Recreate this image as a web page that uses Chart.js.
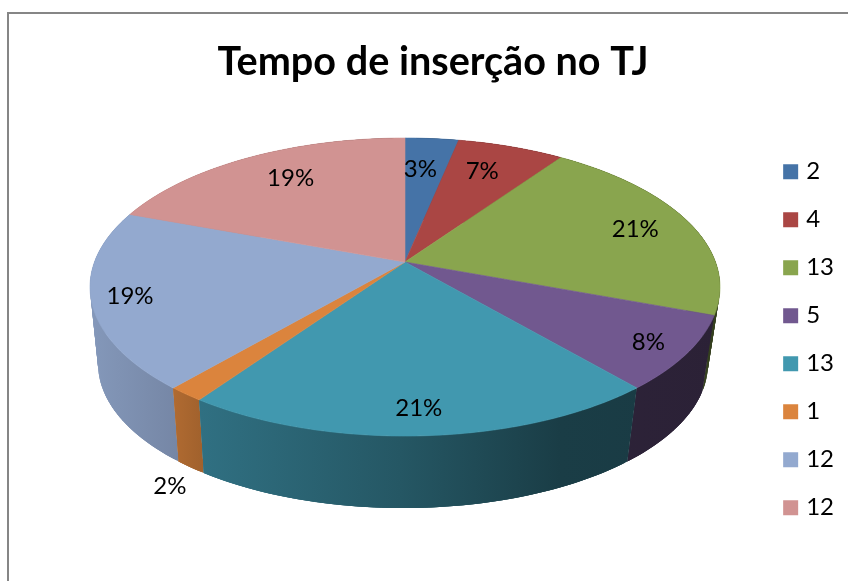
<!DOCTYPE html>
<html><head><meta charset="utf-8">
<style>html,body{margin:0;padding:0;background:#fff;overflow:hidden}canvas{display:block}</style>
<script src="https://cdn.jsdelivr.net/npm/chart.js@4"></script>
</head><body><canvas id="c" width="848" height="581"></canvas>
<script>
const titleText = "Tempo de inserção no TJ";
const categories = ["2","4","13","5","13","1","12","12"];
const values = [2,4,13,5,13,1,12,12];
const percentLabels = ["3%","7%","21%","8%","21%","2%","19%","19%"];
const colors = ["#4573A7","#AA4644","#89A54E","#71588F","#4198AF","#DB843D","#93A9CF","#D19392"];
const FONT = "Lato, Carlito, sans-serif";

// perspective view of the disc
const view = {cx:405, cy:262, R:310.5, b:144.8, k:0.168, lowerScale:0.968, lowerCx:403, lowerCy:339.6};
function project(a, f, lower){
  const X = Math.cos(a)*f, Y = Math.sin(a)*f, d = 1 - view.k*Y;
  const x = view.R*X/d, y = view.b*Y/d;
  return lower ? [view.lowerCx + view.lowerScale*x, view.lowerCy + view.lowerScale*y]
               : [view.cx + x, view.cy + y];
}
// wall brightness across the picture
const shadeStops = [[90,.9],[175,.8],[200,.74],[400,.57],[560,.4],[720,.38]];
function shaded(hex, s){
  const n = parseInt(hex.slice(1),16);
  return `rgb(${(n>>16&255)*s},${(n>>8&255)*s},${(n&255)*s})`;
}
function arcPts(s, e, lower){
  const n = Math.max(2, Math.ceil((e-s)/0.01)), p = [];
  for(let i=0;i<=n;i++) p.push(project(s+(e-s)*i/n, 1, lower));
  return p;
}
const labelFit = [[.73,-5,1],[.77,-7,1],[.82,-3,1],[.875,0,1],[.86,-2,1],[1,-16,92],[.89,3,1],[.79,12,1]];

const pie3d = {
  id:"pie3d",
  beforeDraw(chart){
    const c = chart.ctx; c.save();
    c.fillStyle = "#fff"; c.fillRect(0,0,chart.width,chart.height);
    c.strokeStyle = "#868686"; c.lineWidth = 2;
    c.beginPath(); c.moveTo(8,chart.height); c.lineTo(8,13); c.lineTo(chart.width,13); c.stroke();
    c.restore();
  },
  beforeDatasetDraw(chart){
    const c = chart.ctx, arcs = chart.getDatasetMeta(0).data;
    c.save();
    const x0 = shadeStops[0][0], x1 = shadeStops[shadeStops.length-1][0];
    const order = arcs.map((el,i)=>i).sort((p,q)=>
      Math.sin((arcs[p].startAngle+arcs[p].endAngle)/2) - Math.sin((arcs[q].startAngle+arcs[q].endAngle)/2));
    order.forEach(i=>{
      const el = arcs[i];
      const top = arcPts(el.startAngle, el.endAngle, false), low = arcPts(el.startAngle, el.endAngle, true);
      const g = c.createLinearGradient(x0,0,x1,0);
      shadeStops.forEach(([x,s])=>g.addColorStop((x-x0)/(x1-x0), shaded(colors[i],s)));
      c.fillStyle = g;
      const last = top.length-1;
      for(let j=0;j<last;j++){
        const e = Math.min(j+3,last);   // overlapping strips leave no seams
        c.beginPath();
        c.moveTo(top[j][0],top[j][1]); c.lineTo(top[e][0],top[e][1]);
        c.lineTo(low[e][0],low[e][1]); c.lineTo(low[j][0],low[j][1]);
        c.closePath(); c.fill();
      }
    });
    arcs.forEach((el,i)=>{
      c.fillStyle = colors[i]; c.strokeStyle = colors[i]; c.lineWidth = .6;
      c.beginPath(); c.moveTo(view.cx, view.cy);
      arcPts(el.startAngle, el.endAngle, false).forEach(p=>c.lineTo(p[0],p[1]));
      c.closePath(); c.fill(); c.stroke();
    });
    c.restore();
    return false;
  },
  afterDatasetsDraw(chart){
    const c = chart.ctx, arcs = chart.getDatasetMeta(0).data;
    c.save();
    c.fillStyle = "#000"; c.font = "24px "+FONT; c.textAlign = "center"; c.textBaseline = "middle";
    arcs.forEach((el,i)=>{
      const [f,dx,dy] = labelFit[i];
      const p = project((el.startAngle+el.endAngle)/2, f, false);
      c.fillText(percentLabels[i], p[0]+dx, p[1]+dy);
    });
    c.restore();
  }
};

new Chart(document.getElementById("c"),{
  type:"pie",
  data:{labels:categories,datasets:[{data:values,backgroundColor:colors,borderColor:colors,borderWidth:8}]},
  options:{
    responsive:false, animation:false,
    layout:{padding:{left:22,right:4,top:0,bottom:0}},
    plugins:{
      tooltip:{enabled:false},
      title:{display:true,text:titleText,color:"#000",
        font:{family:FONT,size:39.6,weight:"bold"},padding:{top:38,bottom:13}},
      legend:{display:true,position:"right",align:"center",fullSize:false,
        labels:{boxWidth:7,boxHeight:7,padding:24,color:"#000",font:{family:FONT,size:24}}}
    }
  },
  plugins:[pie3d]
});
</script></body></html>
